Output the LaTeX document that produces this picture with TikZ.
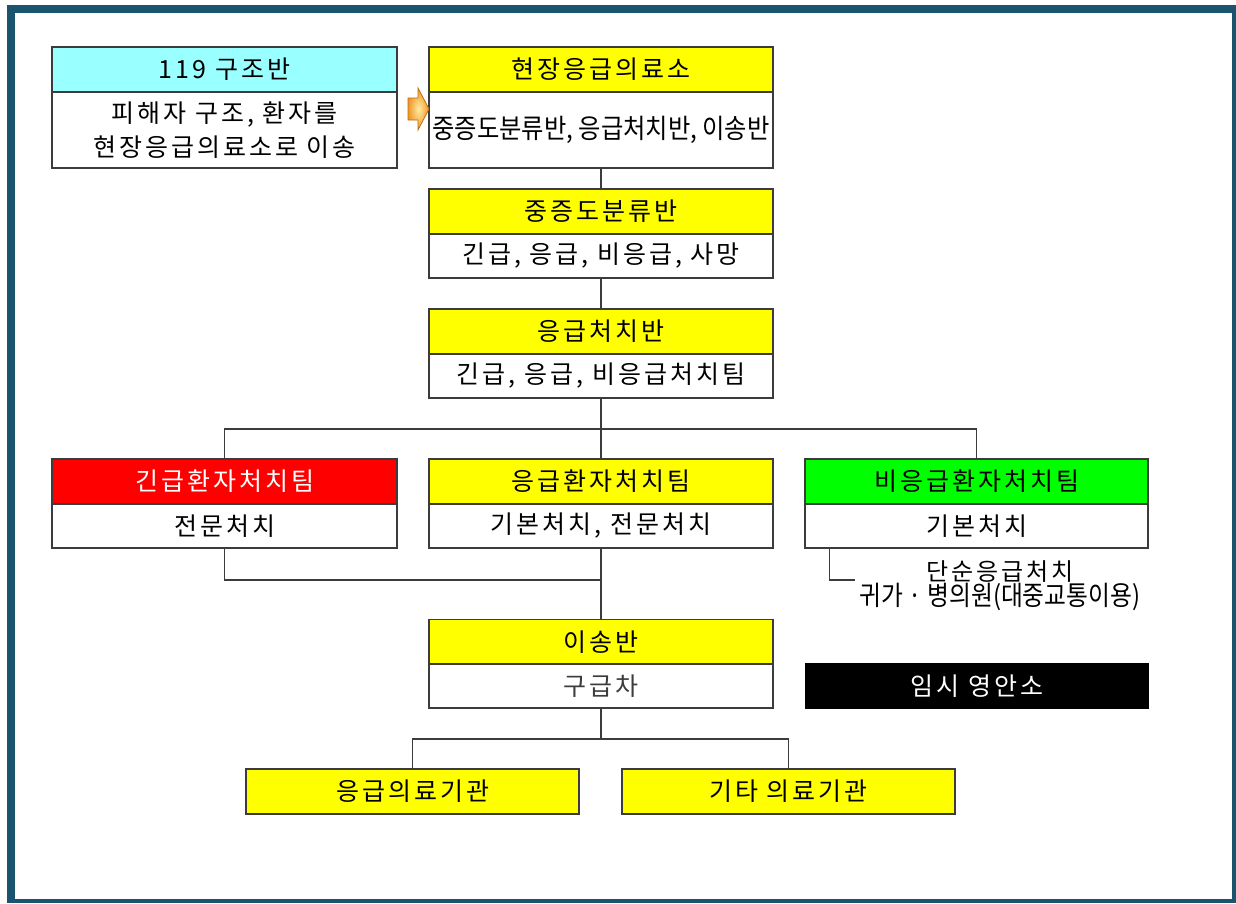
\documentclass[tikz,border=0pt]{standalone}
\usepackage{fontspec}
\usepackage{graphicx}
\setmainfont[LetterSpace=12]{Noto Sans CJK KR}
\newfontfamily\tightfont{Noto Sans CJK KR}
\usetikzlibrary{shadings}

\definecolor{framecol}{RGB}{26,84,110}
\definecolor{linecol}{RGB}{60,60,60}
\definecolor{hdyellow}{RGB}{255,255,0}
\definecolor{hdcyan}{RGB}{153,255,255}
\definecolor{hdred}{RGB}{255,0,0}
\definecolor{hdgreen}{RGB}{0,255,0}
\definecolor{arrowin}{RGB}{255,236,160}
\definecolor{arrowout}{RGB}{240,150,40}
\definecolor{arrowline}{RGB}{190,110,20}

\tikzset{
  box/.style={draw=linecol, line width=1.2pt, inner sep=0pt, minimum width=344pt,
    align=center, font=\fontsize{25}{34}\selectfont},
  head/.style={box, minimum height=45pt, fill=hdyellow},
  body/.style={box, minimum height=44pt, fill=white},
  link/.style={draw=linecol, line width=1.2pt},
}

\begin{document}
\begin{tikzpicture}[x=1pt, y=-1pt]
\useasboundingbox (0,0) rectangle (1236,903);

% frame
\fill[framecol] (7,5) rectangle (1236,903);
\fill[white] (15,13) rectangle (1232,899);

% top row
\node[head, fill=hdcyan, minimum width=345pt] (rescueH) at (224.5,69.5) {119 구조반};
\node[body, minimum width=345pt, minimum height=76pt] (rescueB) at (224.5,130) {피해자 구조, 환자를\\현장응급의료소로 이송};
\node[head] (siteH) at (601,69.5) {현장응급의료소};
\node[body, minimum height=76pt] (siteB) at (601,130) {\scalebox{0.9}[1]{\tightfont\fontsize{27}{30}\selectfont 중증도분류반, 응급처치반, 이송반}};

% arrow
\shade[inner color=arrowin, outer color=arrowout, draw=arrowline, line width=0.8pt]
  (408,98) -- (418,98) -- (418,88) -- (429,109) -- (418,130) -- (418,120) -- (408,120) -- cycle;

% triage
\node[head] (triageH) at (601,211.5) {중증도분류반};
\node[body] (triageB) at (601,256) {긴급, 응급, 비응급, 사망};

% first aid
\node[head] (aidH) at (601,331.5) {응급처치반};
\node[body] (aidB) at (601,376) {긴급, 응급, 비응급처치팀};

% teams
\node[head, fill=hdred, text=white, minimum width=345pt] (redH) at (224.5,481.5) {긴급환자처치팀};
\node[body, minimum width=345pt] (redB) at (224.5,526) {전문처치};
\node[head] (yelH) at (601,481.5) {응급환자처치팀};
\node[body] (yelB) at (601,526) {기본처치, 전문처치};
\node[head, fill=hdgreen, minimum width=343pt] (grnH) at (976.5,481.5) {비응급환자처치팀};
\node[body, minimum width=343pt] (grnB) at (976.5,526) {기본처치};

\node[font=\fontsize{24}{23}\selectfont, inner sep=0pt, align=center] (simple) at (1000,586)
  {단순응급처치\\\scalebox{0.88}[1]{\tightfont\fontsize{27}{23}\selectfont 귀가 · 병의원(대중교통이용)}};

% transport
\node[head] (moveH) at (601,642) {이송반};
\node[body, text=linecol] (moveB) at (601,686) {구급차};
\node[body, fill=black, text=white, draw=black, minimum width=342pt] (morgue) at (977,686) {임시 영안소};

% hospitals
\node[head, minimum width=333pt] (hospA) at (412.5,791.5) {응급의료기관};
\node[head, minimum width=333pt] (hospB) at (788.5,791.5) {기타 의료기관};

% connectors
\coordinate (split) at (601,429);
\coordinate (join) at (601,580);
\coordinate (tick) at (855,580);
\coordinate (split2) at (601,739);

\draw[link] (siteB.south) -- (triageH.north);
\draw[link] (triageB.south) -- (aidH.north);
\draw[link] (aidB.south) -- (yelH.north);
\draw[link] (redH.north) |- (split) -| (grnH.north);
\draw[link] (yelB.south) -- (moveH.north);
\draw[link] (redB.south) |- (join);
\draw[link] ([xshift=25pt]grnB.south west) |- (tick);
\draw[link] (moveB.south) -- (split2);
\draw[link] (hospA.north) |- (split2) -| (hospB.north);
\end{tikzpicture}
\end{document}
